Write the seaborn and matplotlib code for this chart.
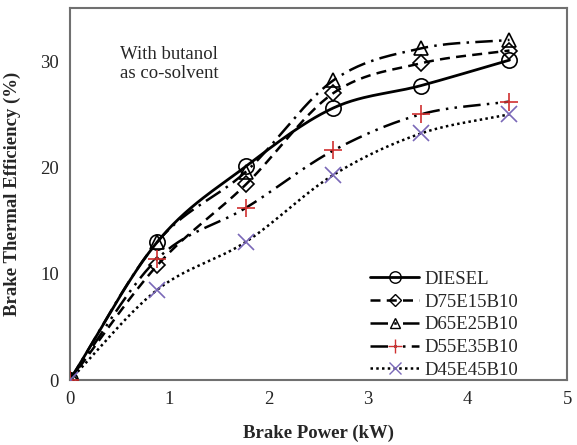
import numpy as np
import pandas as pd
import matplotlib
matplotlib.use("Agg")
import matplotlib.pyplot as plt
import seaborn as sns

power = [0, 0.88, 1.77, 2.65, 3.53, 4.42]
diesel = [0, 13.0, 20.1, 25.6, 27.7, 30.1]
d75e15b10 = [0, 10.8, 18.4, 27.0, 29.8, 31.0]
d65e25b10 = [0, 13.0, 19.6, 28.2, 31.2, 32.0]
d55e35b10 = [0, 11.4, 16.2, 21.6, 25.0, 26.2]
d45e45b10 = [0, 8.5, 13.0, 19.3, 23.2, 25.0]
names = ["DIESEL", "D75E15B10", "D65E25B10", "D55E35B10", "D45E45B10"]
series = [diesel, d75e15b10, d65e25b10, d55e35b10, d45e45b10]

styles = [
    dict(marker="o", color="black", ls="-", lw=2.0, mfc="none", mec="black", ms=11),
    dict(marker="D", color="black", ls=(0, (4, 2.5)), lw=1.8, mfc="none", mec="black", ms=8),
    dict(marker="^", color="black", ls=(0, (7, 2.5, 1, 2.5)), lw=1.8, mfc="none", mec="black", ms=10),
    dict(marker="+", color="black", ls=(0, (7, 2.5, 1, 2.5, 1, 2.5)), lw=1.8, mfc="none", mec="#d03030", ms=13),
    dict(marker="x", color="black", ls=(0, (1, 1.3)), lw=1.8, mfc="none", mec="#7a68b8", ms=12),
]

def smooth(x, y, n=30):
    x = np.asarray(x, float); y = np.asarray(y, float)
    px = np.concatenate([[2*x[0]-x[1]], x, [2*x[-1]-x[-2]]])
    py = np.concatenate([[2*y[0]-y[1]], y, [2*y[-1]-y[-2]]])
    xs, ys = [], []
    t = np.linspace(0, 1, n)[:, None]
    for i in range(1, len(px)-2):
        p0, p1, p2, p3 = [np.array([px[j], py[j]]) for j in range(i-1, i+3)]
        c1 = p1 + (p2 - p0) / 6
        c2 = p2 - (p3 - p1) / 6
        pts = (1-t)**3*p1 + 3*(1-t)**2*t*c1 + 3*(1-t)*t**2*c2 + t**3*p2
        xs.append(pts[:, 0]); ys.append(pts[:, 1])
    return np.concatenate(xs), np.concatenate(ys)

sns.set_style("white")
plt.rcParams["font.family"] = ["Liberation Serif", "DejaVu Serif"]

fig = plt.figure(figsize=(5.77, 4.45), dpi=100)
ax = fig.add_axes([0.121, 0.146, 0.862, 0.836])

handles = []
for name, vals, st in zip(names, series, styles):
    sx, sy = smooth(power, vals)
    sns.lineplot(x=sx, y=sy, ax=ax, color=st["color"], lw=st["lw"], linestyle=st["ls"], sort=False, estimator=None)
    ax.plot(power, vals, ls="none", marker=st["marker"], ms=st["ms"], mfc=st["mfc"],
            mec=st["mec"], mew=1.2, zorder=5)
    h, = ax.plot([], [], color=st["color"], lw=st["lw"], ls=st["ls"], marker=st["marker"],
                 ms=st["ms"]*0.75, mfc=st["mfc"], mec=st["mec"], mew=1.0)
    handles.append(h)

ax.set_xlim(0, 5)
ax.set_ylim(0, 35)
ax.set_xticks([0, 1, 2, 3, 4, 5])
ax.set_yticks([0, 10, 20, 30])
ax.tick_params(length=0, labelsize=13.5, pad=8)
for s in ax.spines.values():
    s.set_color("#707070")
    s.set_linewidth(1.5)

ax.set_xlabel("Brake Power (kW)", fontsize=13.5, fontweight="bold", labelpad=12)
ax.set_ylabel("Brake Thermal Efficiency (%)", fontsize=13.5, fontweight="bold", labelpad=14)

ax.text(0.5, 29.7, "With butanol\nas co-solvent", fontsize=13.5, ha="left", va="center", linespacing=1.15)

ax.legend(handles, names, loc="lower right", bbox_to_anchor=(0.93, -0.035), frameon=False, fontsize=13.5,
          handlelength=2.6, handletextpad=0.3, labelspacing=0.3, borderaxespad=0.35)

fig.savefig("out.png", dpi=100)
